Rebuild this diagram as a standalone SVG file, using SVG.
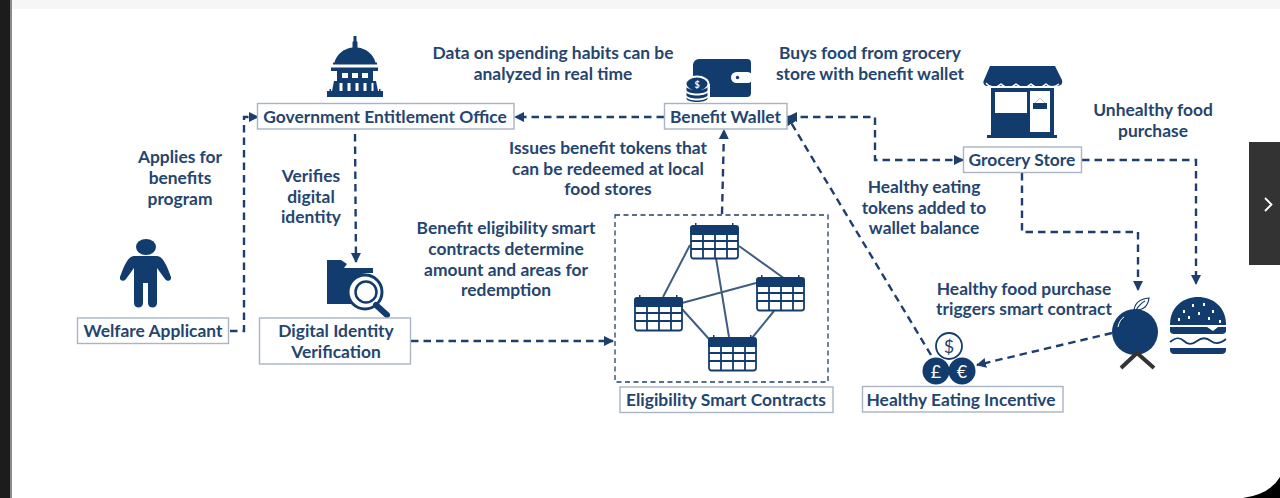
<svg xmlns="http://www.w3.org/2000/svg" width="1280" height="498" viewBox="0 0 1280 498">
<style>
text{font-family:Lato,"Liberation Sans",sans-serif;font-weight:700;font-size:17.4px;fill:#25456f;text-anchor:middle}
.box{fill:#fff;stroke:#a9b5c3;stroke-width:1.4}
.c{fill:none;stroke:#1e3f6d;stroke-width:2.4;stroke-dasharray:7.500 5}
.i{fill:#123c6e}
.w{fill:#fff}
.l{fill:none;stroke:#123c6e}
</style>
<defs>
<marker id="a" markerWidth="12" markerHeight="12" refX="9" refY="6" orient="auto" markerUnits="userSpaceOnUse"><path d="M0 1L10 6L0 11Z" fill="#1e3f6d"/></marker>
<marker id="s" markerWidth="12" markerHeight="12" refX="9" refY="6" orient="auto-start-reverse" markerUnits="userSpaceOnUse"><path d="M0 1L10 6L0 11Z" fill="#1e3f6d"/></marker>
<g id="cal">
<path class="i" d="M5 0h1.500v3H5zM42 0h1.500v3H42z"/>
<path class="i" d="M3 2H46a3 3 0 0 1 3 3V12H0V5a3 3 0 0 1 3-3z"/>
<path class="l" stroke-width="1.800" d="M1 10V33a2.500 2.500 0 0 0 2.500 2.500H45.500A2.500 2.500 0 0 0 48 33V10M1 18H48M1 26H48M13 12V35M25 12V35M37 12V35"/>
</g>
</defs>
<rect width="1280" height="498" fill="#fff"/>
<rect x="0" y="0" width="1280" height="9" fill="#f6f6f6"/>
<rect x="10" y="0" width="2" height="498" fill="#8a8a8a"/>
<rect x="0" y="0" width="10" height="498" fill="#1c1c1c"/>
<path d="M1243 498Q1270 494 1280 477V498Z" fill="#000"/>
<rect x="1249" y="142" width="31" height="123" fill="#333"/>
<path d="M1265 198L1271.500 204.500L1265 211" fill="none" stroke="#fff" stroke-width="1.800"/>

<g id="connectors">
<path class="c" marker-end="url(#a)" d="M230 331H244V117H258"/>
<path class="c" marker-end="url(#a)" d="M664 117H515"/>
<path class="c" marker-end="url(#a)" d="M355 134L356 262"/>
<path class="c" marker-end="url(#a)" d="M411 341H613"/>
<path class="c" marker-end="url(#a)" d="M722 214L724 130"/>
<path class="c" marker-start="url(#s)" marker-end="url(#a)" d="M788 117H875V160H963"/>
<path class="c" marker-end="url(#a)" d="M931 355L787 116"/>
<path class="c" marker-end="url(#a)" d="M1022 173V232H1138V290"/>
<path class="c" marker-end="url(#a)" d="M1082 160H1196V284"/>
<path class="c" marker-end="url(#a)" d="M1112 333L977 365"/>
<rect x="615" y="215" width="213" height="167" fill="none" stroke="#1e3f6d" stroke-width="1.300" stroke-dasharray="5 3.500"/>
<g stroke="#3f5d82" stroke-width="2" fill="none">
<path d="M690 245L663 297M739 246L785 279M716 258L729 337M682 303L756 283M682 309L709 339M774 311L752 338"/>
</g>
</g>

<g id="welfare-applicant">
<ellipse cx="146" cy="247" rx="10" ry="8" class="i"/>
<path class="i" d="M134 256H157C163 256 167 266 171 277C172 281 167 282 165 279L157 268V303C157 309 148 309 148 303V283H143V303C143 309 134 309 134 303V268L126 279C124 282 119 281 120 277C124 266 128 256 134 256Z"/>
<rect class="box" x="77.500" y="318" width="151" height="25.500"/>
<text x="153" y="337">Welfare Applicant</text>
</g>

<g id="government-entitlement-office">
<path class="i" d="M353.500 36h3v5l1 1v5.500c9 1 16 7 18 15h1.500v2h-44v-2h1.500c2-8 9-14 18-15V42l1-1zM331 67.500h47V71h-47zM337 71h36v10h3l2 10h1V89h1.500v2h2.500v6H327v-6h2.500v-2H331v2h1L334 81h3z"/>
<path class="w" d="M342 73h6v5h-6zM352 73h6v5h-6zM362 73h6v5h-6zM339.500 83h3v8h-3zM347.500 83h3v8h-3zM355.500 83h3v8h-3zM363.500 83h3v8h-3zM371.500 83h2v8h-2z"/>
<rect class="box" x="257.500" y="103.500" width="256.500" height="25.500"/>
<text x="385" y="122.500">Government Entitlement Office</text>
</g>

<g id="digital-identity-verification">
<path class="i" d="M327 260h14l6 4-3 4h29v5h-6a19 19 0 0 0-14 31H327z"/>
<circle cx="365" cy="292" r="17" fill="#fff" stroke="#123c6e" stroke-width="3"/>
<circle cx="366" cy="292" r="10.500" fill="#fff" stroke="#123c6e" stroke-width="2.500"/>
<path class="l" stroke-width="6" stroke-linecap="round" d="M376 305L387 315"/>
<rect class="box" x="259.500" y="318" width="151" height="46"/>
<text x="336" y="337">Digital Identity</text>
<text x="336" y="358">Verification</text>
</g>

<g id="benefit-wallet">
<path class="i" d="M699 59H747a4 4 0 0 1 4 4V93a4 4 0 0 1-4 4H707V88H693V65a6 6 0 0 1 6-6z"/>
<rect x="731" y="72" width="22" height="11" rx="5.500" fill="#fff"/>
<circle cx="737.500" cy="77.500" r="1.700" class="i"/>
<ellipse cx="697" cy="84" rx="12.500" ry="8.500" fill="#fff"/>
<rect x="684" y="84" width="26" height="20" fill="#fff"/>
<ellipse cx="697" cy="84" rx="10.500" ry="6.500" class="i"/>
<path class="i" d="M686.500 87c2 4 19 4 21 0v3.500c-2 4-19 4-21 0zM686.500 92.500c2 4 19 4 21 0v3c-2 4-19 4-21 0zM686.500 97.500c2 4 19 4 21 0v1.500c-2 4-19 4-21 0z"/>
<text x="697" y="87.500" style="font-size:9px;fill:#fff">$</text>
<rect class="box" x="664.500" y="103.500" width="122.500" height="25.500"/>
<text x="725.500" y="122.500">Benefit Wallet</text>
</g>

<g id="eligibility-smart-contracts">
<use href="#cal" x="690" y="223"/>
<use href="#cal" x="756" y="275"/>
<use href="#cal" x="634" y="295"/>
<use href="#cal" x="708" y="335"/>
<rect class="box" x="620" y="387" width="213" height="25.500"/>
<text x="726" y="406">Eligibility Smart Contracts</text>
</g>

<g id="grocery-store">
<path class="i" d="M991 88H1054V135H1057V138H987V135H991Z"/>
<path class="i" d="M990 66H1055L1062 80C1063 85 1060 86 1056 86H988C985 86 982 84 984 80Z"/>
<path d="M986 83C990 88 997 88 1001 84C1005 88 1012 88 1016 84C1020 88 1027 88 1031 84C1035 88 1042 88 1046 84C1050 88 1055 87 1059 84" fill="none" stroke="#fff" stroke-width="1.300"/>
<path class="i" d="M987 88H1058V90H987Z" opacity="0"/>
<rect class="w" x="995" y="92" width="32" height="21"/>
<rect class="w" x="1030" y="91" width="20" height="41"/>
<path d="M1035 103L1040 98L1045 103" fill="none" stroke="#a9b5c3" stroke-width="0.800"/>
<rect class="i" x="1033" y="103" width="14" height="6"/>
<rect class="box" x="963.500" y="147" width="118" height="25.500"/>
<text x="1022" y="166">Grocery Store</text>
</g>

<g id="healthy-eating-incentive">
<circle cx="949" cy="346" r="13" fill="#fff" stroke="#123c6e" stroke-width="1.800"/>
<circle cx="936" cy="371" r="13.500" class="i"/>
<circle cx="962" cy="371" r="13.500" class="i"/>
<text x="949" y="352.500" style="font-size:18px;font-weight:400">$</text>
<text x="936" y="377.500" style="font-size:18px;font-weight:400;fill:#fff">£</text>
<text x="962" y="377.500" style="font-size:18px;font-weight:400;fill:#fff">€</text>
<rect class="box" x="862.500" y="386.500" width="200.500" height="25.500"/>
<text x="961" y="406">Healthy Eating Incentive</text>
</g>

<g id="healthy-food">
<circle cx="1135" cy="332" r="23" class="i"/>
<path d="M1118 327C1119 322 1121 319 1124 317" fill="none" stroke="#fff" stroke-width="1"/>
<path d="M1134 312c0-8 5-13 15-14c-1 8-5 12-13 12M1136 310c2-3 5-7 9-9" fill="none" stroke="#123c6e" stroke-width="1.200"/>
<path d="M1121 368L1137 353L1154 368" fill="none" stroke="#333" stroke-width="4"/>
</g>

<g id="unhealthy-food">
<path class="i" d="M1170 325C1170 306 1184 297 1198 297C1212 297 1226 306 1226 325Z"/>
<path class="w" d="M1183 310h2v3h-2zM1192 304h2v3h-2zM1203 303h2v3h-2zM1212 310h2v3h-2zM1198 312h2v3h-2zM1178 318h2v3h-2zM1188 316h2v3h-2zM1208 317h2v3h-2zM1219 320h2v3h-2z"/>
<path class="i" d="M1170 327H1207L1213 331L1218 327H1226V331C1226 333 1224 334 1222 334H1174C1172 334 1170 333 1170 331Z"/>
<path d="M1170 342C1176 337 1180 337 1184 341C1188 345 1192 345 1197 341C1202 337 1206 337 1211 341C1216 345 1221 343 1226 339" fill="none" stroke="#123c6e" stroke-width="1.800"/>
<path class="i" d="M1170 348H1226V350C1226 352.500 1224 354 1222 354H1174C1172 354 1170 352.500 1170 350Z"/>
</g>

<g id="labels">
<text x="180" y="163">Applies for</text><text x="180" y="184">benefits</text><text x="180" y="205">program</text>
<text x="311" y="182">Verifies</text><text x="311" y="203">digital</text><text x="311" y="223">identity</text>
<text x="553" y="59">Data on spending habits can be</text><text x="553" y="80">analyzed in real time</text>
<text x="870" y="59">Buys food from grocery</text><text x="870" y="80">store with benefit wallet</text>
<text x="1153" y="116">Unhealthy food</text><text x="1153" y="137">purchase</text>
<text x="608" y="154">Issues benefit tokens that</text><text x="608" y="175">can be redeemed at local</text><text x="608" y="195">food stores</text>
<text x="506" y="234">Benefit eligibility smart</text><text x="506" y="255">contracts determine</text><text x="506" y="276">amount and areas for</text><text x="506" y="296">redemption</text>
<text x="924" y="193">Healthy eating</text><text x="924" y="214">tokens added to</text><text x="924" y="234">wallet balance</text>
<text x="1024" y="295">Healthy food purchase</text><text x="1024" y="315">triggers smart contract</text>
</g>
</svg>
